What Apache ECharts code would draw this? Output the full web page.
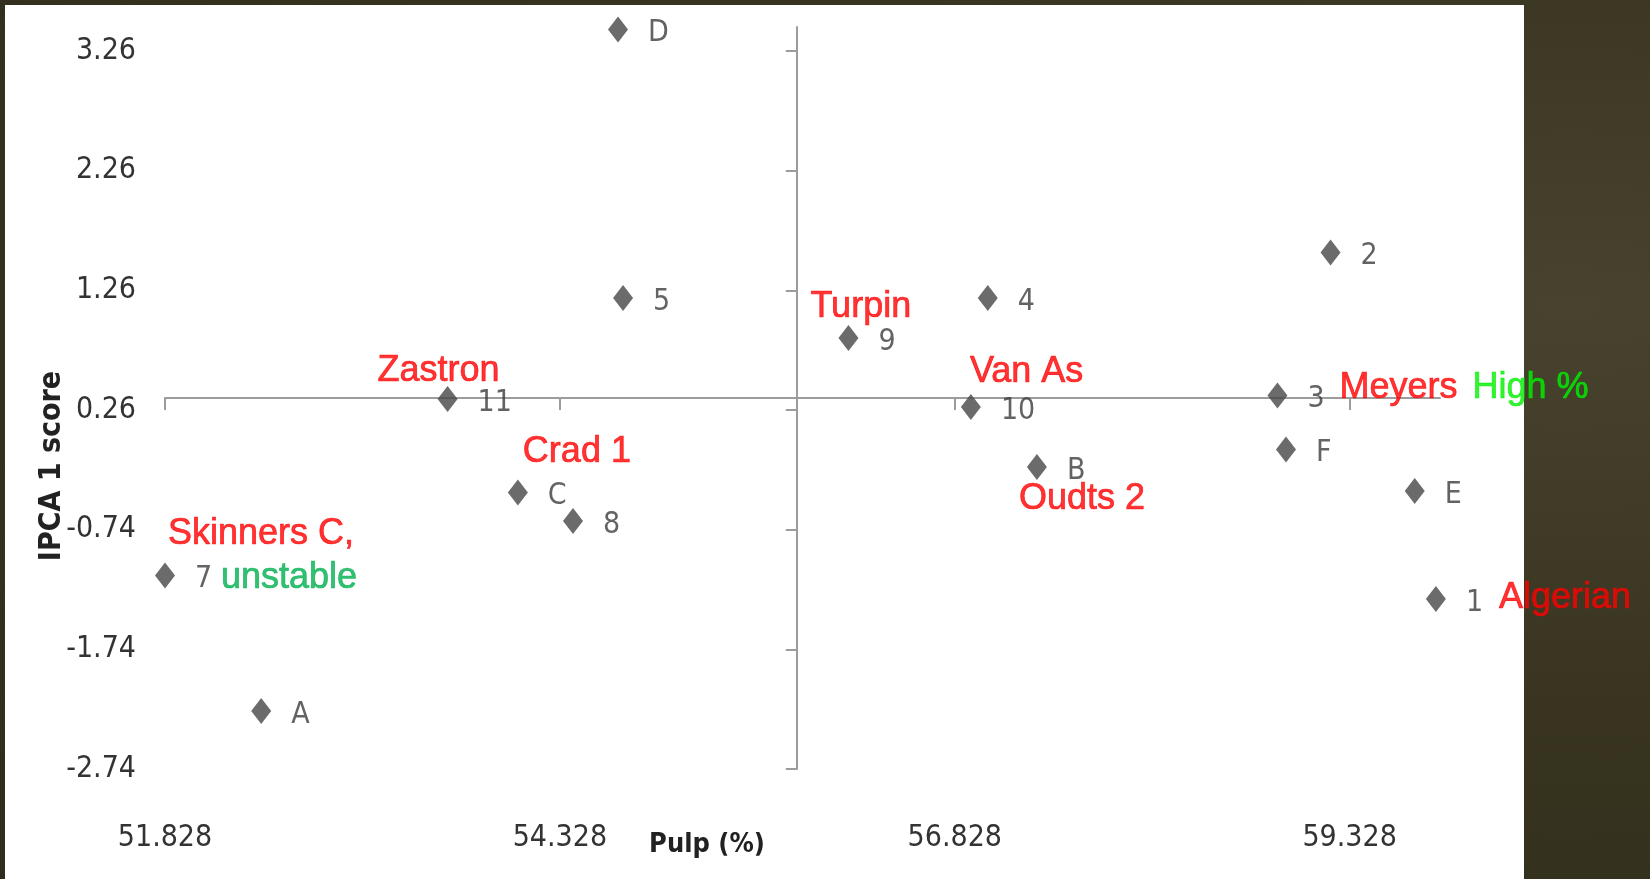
<!DOCTYPE html>
<html><head><meta charset="utf-8">
<script src="https://cdn.jsdelivr.net/npm/echarts@6/dist/echarts.min.js"></script>
<style>
html,body{margin:0;padding:0;width:1650px;height:879px;overflow:hidden;
 background:#3a3728;
 background-image:radial-gradient(ellipse at 95% 35%, #47432f 0%, #38341f 50%, #2f2c1d 100%);}
#panel{position:absolute;left:5px;top:5px;width:1519px;height:874px;background:#fff;}
#c{position:absolute;left:0;top:0;width:1650px;height:879px;}
</style>
</head><body><div id="panel"></div><div id="c"></div>
<script>
// ---- data ----
const pointNames  = ['D','5','11','C','8','7','A','9','4','10','B','2','3','F','E','1'];
const pulpValues  = [54.696,54.728,53.617,54.062,54.411,51.828,52.437,56.155,57.037,56.930,57.348,59.207,58.871,58.925,59.740,59.874];
const ipcaScores  = [3.44,1.196,0.352,-0.429,-0.668,-1.124,-2.255,0.862,1.196,0.285,-0.216,1.576,0.381,-0.070,-0.417,-1.319];
const xTickValues = [51.828,54.328,56.828,59.328];
const yTickValues = [-2.74,-1.74,-0.74,0.26,1.26,2.26,3.26];
const xRange = [51.828, 59.9];
const yRange = [-2.74, 3.46];
const xAxisCrossesAt = 0.36;    // IPCA value where the horizontal axis line sits
const yAxisCrossesAt = 55.828;  // Pulp value where the vertical axis line sits
const xTitle = 'Pulp (%)';
const yTitle = 'IPCA 1 score';
const annotationPoints = ['11','C','9','10','B','3','3','1','7','7'];
const annotationTexts  = ['Zastron','Crad 1','Turpin','Van As','Oudts 2','Meyers','High %','Algerian','Skinners C,','unstable'];

// ---- styles ----
const RED='#ff0000', LIME='#00f000', GREEN='#00b050';
const annotationColors  = [RED,RED,RED,RED,RED,RED,LIME,RED,RED,GREEN];
const annotationOffsets = [[-70,-28],[5,-40],[-38,-31],[-1,-35],[-18,32],[62,-7],[195,-7],[63,-1],[3,-42],[56,2]];
const grid = {left:165, top:27, width:1275, height:742};
const axisGray = '#9c9c9c';
const tickFont = '"DejaVu Sans Condensed", "DejaVu Sans", sans-serif';

const points = pointNames.map((n,i)=>[pulpValues[i], ipcaScores[i], n]);
const annData = annotationPoints.map((p,i)=>{
  const k = pointNames.indexOf(p);
  return {value:[pulpValues[k], ipcaScores[k]],
          label:{formatter:annotationTexts[i], color:annotationColors[i],
                 textBorderColor:annotationColors[i], offset:annotationOffsets[i]}};
});

const xLineOffset = -(xAxisCrossesAt - yRange[0])/(yRange[1]-yRange[0])*grid.height;
const yLineOffset = -(yAxisCrossesAt - xRange[0])/(xRange[1]-xRange[0])*grid.width;

const chart = echarts.init(document.getElementById('c'), null, {renderer:'canvas'});
chart.setOption({
  backgroundColor:'transparent',
  animation:false,
  grid:{left:grid.left, top:grid.top, width:grid.width, height:grid.height, containLabel:false},
  xAxis:[
    {type:'value', min:xRange[0], max:xRange[1], position:'bottom',
     axisLine:{show:false, onZero:false}, axisTick:{show:false}, splitLine:{show:false},
     axisLabel:{customValues:xTickValues, formatter:v=>v.toFixed(3), margin:54,
       fontFamily:tickFont, fontSize:30, color:'#333'}},
    {type:'value', min:xRange[0], max:xRange[1], position:'bottom', offset:xLineOffset,
     axisLine:{show:true, onZero:false, lineStyle:{color:axisGray, width:2}},
     axisTick:{show:true, customValues:xTickValues, length:12, lineStyle:{color:axisGray, width:2}},
     axisLabel:{show:false}, splitLine:{show:false}}
  ],
  yAxis:[
    {type:'value', min:yRange[0], max:yRange[1], position:'left',
     axisLine:{show:false, onZero:false}, axisTick:{show:false}, splitLine:{show:false},
     axisLabel:{customValues:yTickValues, formatter:v=>v.toFixed(2), margin:29,
       fontFamily:tickFont, fontSize:30, color:'#333'}},
    {type:'value', min:yRange[0], max:yRange[1], position:'left', offset:yLineOffset,
     axisLine:{show:true, onZero:false, lineStyle:{color:axisGray, width:2}},
     axisTick:{show:true, customValues:yTickValues, length:11, lineStyle:{color:axisGray, width:2}},
     axisLabel:{show:false}, splitLine:{show:false}}
  ],
  graphic:[
    {type:'text', x:52, y:466, rotation:Math.PI/2, z:10,
     style:{text:yTitle, font:'bold 30px "DejaVu Sans Condensed", "DejaVu Sans", sans-serif', fill:'#222',
            align:'center', verticalAlign:'middle', textAlign:'center', textVerticalAlign:'middle'}},
    {type:'text', x:707, y:845, z:10,
     style:{text:xTitle, font:'bold 27px "DejaVu Sans Condensed", "DejaVu Sans", sans-serif', fill:'#222',
            align:'center', verticalAlign:'middle', textAlign:'center', textVerticalAlign:'middle'}}
  ],
  series:[
    {type:'scatter', xAxisIndex:0, yAxisIndex:0, data:points, clip:false,
     symbol:'diamond', symbolSize:[20,26], itemStyle:{color:'#464646'},
     label:{show:true, position:'right', distance:20, offset:[0,4], formatter:p=>p.value[2],
       fontFamily:tickFont, fontSize:30, color:'#3c3c3c'},
     emphasis:{disabled:true}, z:3},
    {type:'scatter', xAxisIndex:0, yAxisIndex:0, data:annData, clip:false,
     symbol:'circle', symbolSize:1, itemStyle:{color:'rgba(0,0,0,0)'},
     label:{show:true, position:'inside', align:'left', verticalAlign:'middle',
       textBorderWidth:0.7, textShadowBlur:0,
       fontFamily:'"Liberation Sans", Arial, sans-serif', fontSize:36},
     emphasis:{disabled:true}, z:4}
  ]
});
</script>
</body></html>
